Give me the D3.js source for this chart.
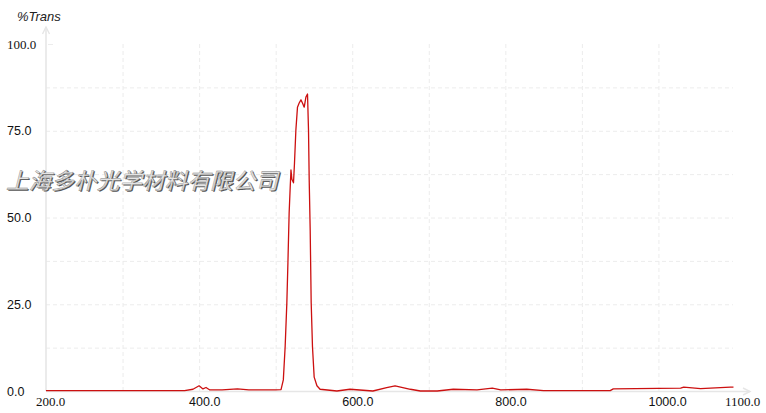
<!DOCTYPE html>
<html>
<head>
<meta charset="utf-8">
<script src="https://cdn.jsdelivr.net/npm/d3@7"></script>
<style>
  body { margin: 0; background: #fff; }
  svg { display: block; }
</style>
</head>
<body>
<div id="chart"></div>
<script>
// spectrum: wavelength (nm) and %T
var wavelength = [200, 300, 381, 392, 400, 405, 409, 414, 430, 450, 465, 480, 499, 507, 510, 512.4, 514.6, 516, 517.6, 519, 520, 521.2, 523.3, 524.6, 526.4, 528.5, 530.7, 533, 535, 537.3, 539.5, 541.6, 542.9, 543.8, 545.1, 546.4, 548.1, 550.3, 553.9, 558, 580, 597, 627, 645, 656, 676, 689, 711, 732, 763, 783, 794, 828, 850, 937, 941, 1029, 1033, 1055, 1094, 1098];
var transmit   = [0.1, 0.1, 0.1, 0.5, 1.5, 0.6, 1.0, 0.3, 0.3, 0.6, 0.3, 0.3, 0.3, 0.4, 3.2, 12.8, 25.4, 36.9, 51.3, 58.8, 63.7, 61.0, 60.0, 65.7, 75.2, 81.8, 83.0, 83.9, 83.0, 81.8, 84.7, 85.6, 75.2, 60.8, 46.4, 25.4, 12.7, 4.0, 1.5, 0.5, 0.0, 0.5, 0.0, 1.0, 1.5, 0.5, 0.0, 0.0, 0.5, 0.3, 0.8, 0.3, 0.5, 0.1, 0.1, 0.6, 0.8, 1.1, 0.7, 1.1, 1.1];

var xLabels = [200, 400, 600, 800, 1000, 1100];
var xGrid = [300, 400, 500, 600, 700, 800, 900, 1000];
var yLabels = [0, 25, 50, 75, 100];
var yGrid = [12.5, 25, 37.5, 50, 62.5, 75, 87.5];
var watermark = "上海多朴光学材料有限公司";

var W = 766, H = 413;
var svg = d3.select("#chart").append("svg").attr("width", W).attr("height", H);

var x = d3.scaleLinear().domain([200, 1100]).range([46, 735]);
var y = d3.scaleLinear().domain([0, 100]).range([391, 44]);

// dashed grid, very faint
var gridCol = "#ececec";
svg.append("g").selectAll("line").data(yGrid).enter().append("line")
    .attr("x1", x(200)).attr("x2", x(1100) - 2)
    .attr("y1", d => y(d) + 0.5).attr("y2", d => y(d) + 0.5)
    .attr("stroke", gridCol).attr("stroke-dasharray", "4,3");
svg.append("g").selectAll("line").data(xGrid).enter().append("line")
    .attr("x1", d => x(d) + 0.5).attr("x2", d => x(d) + 0.5)
    .attr("y1", y(0)).attr("y2", y(100))
    .attr("stroke", gridCol).attr("stroke-dasharray", "4,3");
// small stub at 100
svg.append("line").attr("x1", x(200) + 2).attr("x2", x(200) + 7)
    .attr("y1", y(100) + 0.5).attr("y2", y(100) + 0.5).attr("stroke", gridCol);

// axes with arrows
var axisCol = "#e6e6e6";
svg.append("line").attr("x1", x(200)).attr("x2", x(200)).attr("y1", y(0)).attr("y2", 28)
    .attr("stroke", axisCol).attr("stroke-width", 1.6);
svg.append("path").attr("d", "M" + (x(200) - 3.5) + ",34 L" + x(200) + ",27 L" + (x(200) + 3.5) + ",34")
    .attr("fill", "none").attr("stroke", axisCol).attr("stroke-width", 1.4);
svg.append("line").attr("x1", x(200)).attr("x2", 750).attr("y1", y(0) + 0.5).attr("y2", y(0) + 0.5)
    .attr("stroke", axisCol).attr("stroke-width", 1.6);
svg.append("path").attr("d", "M743," + (y(0) - 3) + " L750," + (y(0) + 0.5) + " L743," + (y(0) + 4))
    .attr("fill", "none").attr("stroke", axisCol).attr("stroke-width", 1.4);

// tick labels
svg.append("g").selectAll("text").data(yLabels).enter().append("text")
    .attr("x", 7).attr("y", d => y(d) + 4.5)
    .attr("font-family", d => d == 100 ? "Liberation Serif" : "Liberation Sans")
    .attr("font-size", d => d == 100 ? "13px" : "12.5px")
    .attr("fill", "#111")
    .text(d => d.toFixed(1));
svg.append("g").selectAll("text").data(xLabels).enter().append("text")
    .attr("x", d => x(d) - 10).attr("y", 406)
    .attr("font-family", d => (d == 200 || d == 1100) ? "Liberation Serif" : "Liberation Sans")
    .attr("font-size", d => (d == 200 || d == 1100) ? "13px" : "12.5px")
    .attr("fill", "#111")
    .text(d => d.toFixed(1));

svg.append("text").attr("x", 17).attr("y", 21)
    .attr("font-family", "Liberation Sans").attr("font-style", "italic").attr("font-size", "13px")
    .attr("fill", "#222").text("%Trans");

// spectrum curve
var line = d3.line().x((d, i) => x(wavelength[i])).y(d => y(d));
svg.append("path").datum(transmit)
    .attr("d", line)
    .attr("fill", "none").attr("stroke", "#cc1010").attr("stroke-width", 1.3)
    .attr("stroke-linejoin", "round");

// watermark
var wm = svg.append("g").attr("transform", "translate(5,189) skewX(-14)");
wm.append("text").attr("x", 2.5).attr("y", 1)
    .attr("font-family", "Noto Sans CJK SC").attr("font-size", "22.5px").attr("letter-spacing", "0.2px")
    .attr("fill", "#555").text(watermark);
wm.append("text").attr("x", 1).attr("y", 0)
    .attr("font-family", "Noto Sans CJK SC").attr("font-size", "22.5px").attr("letter-spacing", "0.2px")
    .attr("fill", "#e4e4e4").attr("stroke", "#808080").attr("stroke-width", 0.4)
    .text(watermark);
</script>
</body>
</html>
